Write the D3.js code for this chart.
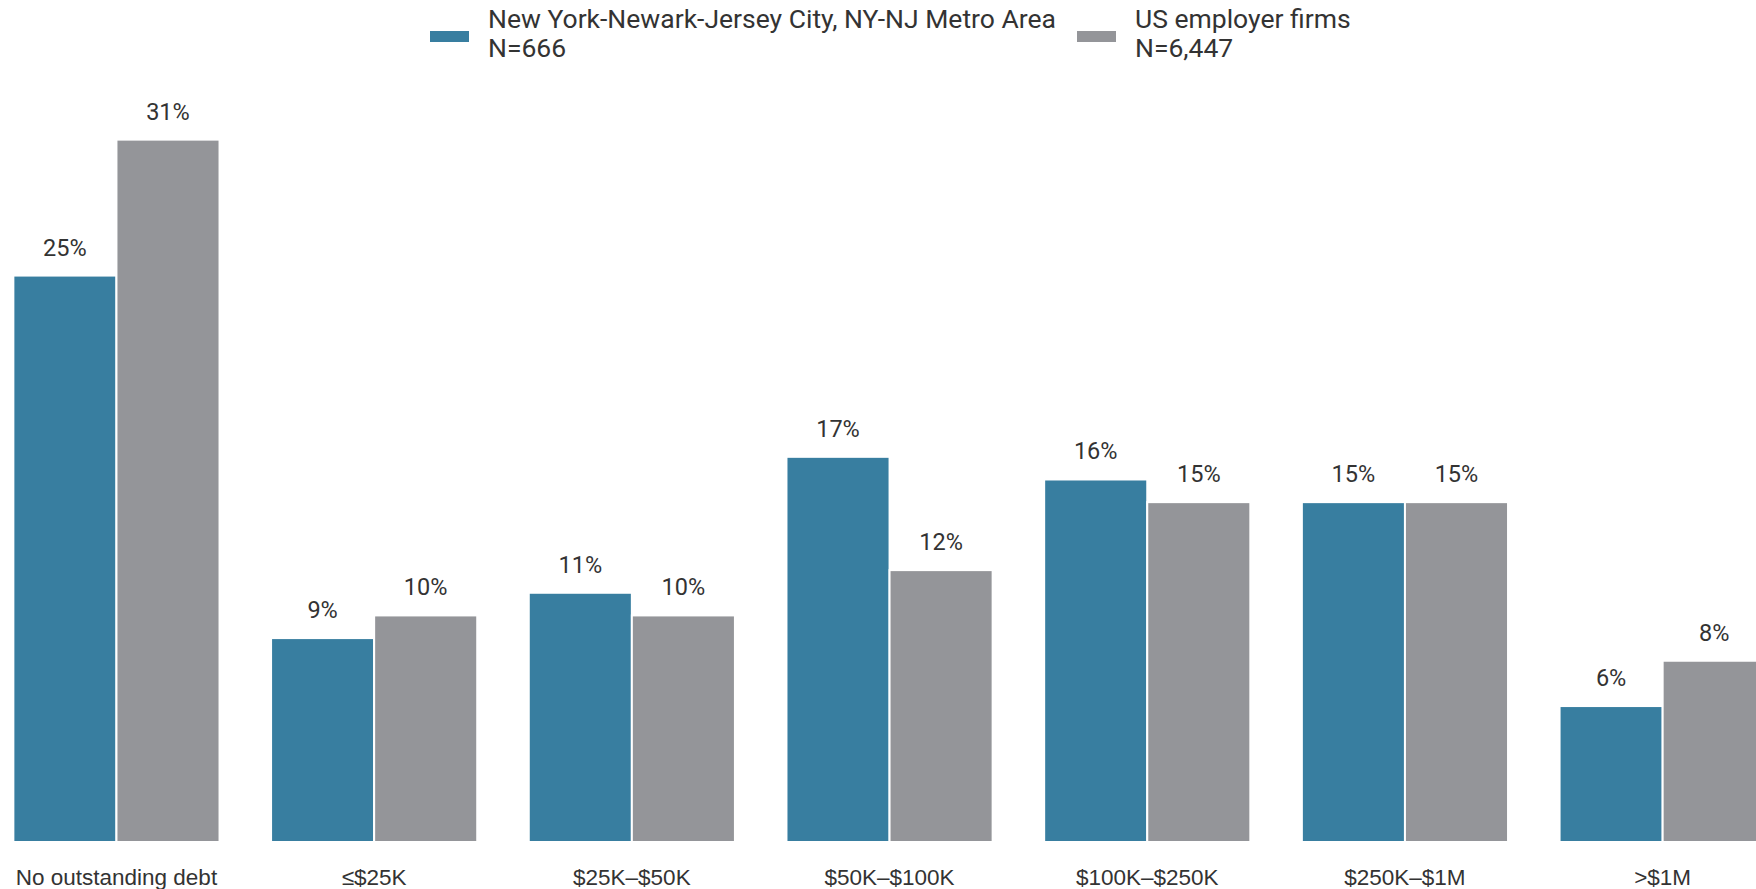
<!DOCTYPE html>
<html>
<head>
<meta charset="utf-8">
<script src="https://cdn.jsdelivr.net/npm/d3@7"></script>
<style>
  body { margin: 0; background: #fff; overflow: hidden; }
  text { font-family: Roboto, "Noto Sans", sans-serif; fill: #333; }
  text.cat { font-family: "Liberation Sans", Arial, sans-serif; }
</style>
</head>
<body>
<div id="chart"></div>
<script>
// Data
const categories = ["No outstanding debt", "≤$25K", "$25K–$50K", "$50K–$100K", "$100K–$250K", "$250K–$1M", ">$1M"];
const seriesNames = ["New York-Newark-Jersey City, NY-NJ Metro Area", "US employer firms"];
const seriesN = ["N=666", "N=6,447"];
const nyValues = [25, 9, 11, 17, 16, 15, 6];
const usValues = [31, 10, 10, 12, 15, 15, 8];
const colors = ["#387ea0", "#949599"];

const width = 1756, height = 889;

const svg = d3.select("#chart")
    .append("svg")
    .attr("width", width)
    .attr("height", height);

// outer band scale for the groups, inner one for the two series
const x0 = d3.scaleBand()
    .domain(categories)
    .range([-12.4, 1791.5])
    .paddingInner(0.2)
    .paddingOuter(0.1);

const x1 = d3.scaleBand()
    .domain([0, 1])
    .range([0, x0.bandwidth()]);

const y = d3.scaleLinear()
    .domain([0, 35])
    .range([842, 49]);

const rows = categories.map((c, i) => ({ cat: c, vals: [nyValues[i], usValues[i]] }));

const groups = svg.selectAll("g.group")
    .data(rows)
    .enter()
    .append("g")
    .attr("class", "group")
    .attr("transform", d => `translate(${x0(d.cat)},0)`);

groups.selectAll("rect")
    .data(d => d.vals.map((v, k) => ({ v, k })))
    .enter()
    .append("rect")
    .attr("x", d => x1(d.k))
    .attr("y", d => y(d.v))
    .attr("width", x1.bandwidth())
    .attr("height", d => y(0) - y(d.v))
    .attr("fill", d => colors[d.k])
    .attr("stroke", "#fff")
    .attr("stroke-width", 2);

// value labels above bars
groups.selectAll("text.val")
    .data(d => d.vals.map((v, k) => ({ v, k })))
    .enter()
    .append("text")
    .attr("class", "val")
    .attr("x", d => x1(d.k) + x1.bandwidth() / 2)
    .attr("y", d => y(d.v) - 20)
    .attr("text-anchor", "middle")
    .attr("font-size", 23.5)
    .text(d => d.v + "%");

// category labels
svg.selectAll("text.cat")
    .data(categories)
    .enter()
    .append("text")
    .attr("class", "cat")
    .attr("x", d => x0(d) + x0.bandwidth() / 2)
    .attr("y", 885)
    .attr("text-anchor", "middle")
    .attr("font-size", 22.5)
    .text(d => d);

// legend
const legendX = [430, 1077];
const legend = svg.selectAll("g.legend")
    .data(seriesNames)
    .enter()
    .append("g")
    .attr("class", "legend")
    .attr("transform", (d, i) => `translate(${legendX[i]},0)`);

legend.append("rect")
    .attr("x", 0)
    .attr("y", 31)
    .attr("width", 39)
    .attr("height", 11)
    .attr("fill", (d, i) => colors[i]);

legend.append("text")
    .attr("x", 58)
    .attr("y", 28)
    .attr("font-size", 26.5)
    .text(d => d);

legend.append("text")
    .attr("x", 58)
    .attr("y", 57)
    .attr("font-size", 26.5)
    .text((d, i) => seriesN[i]);
</script>
</body>
</html>
